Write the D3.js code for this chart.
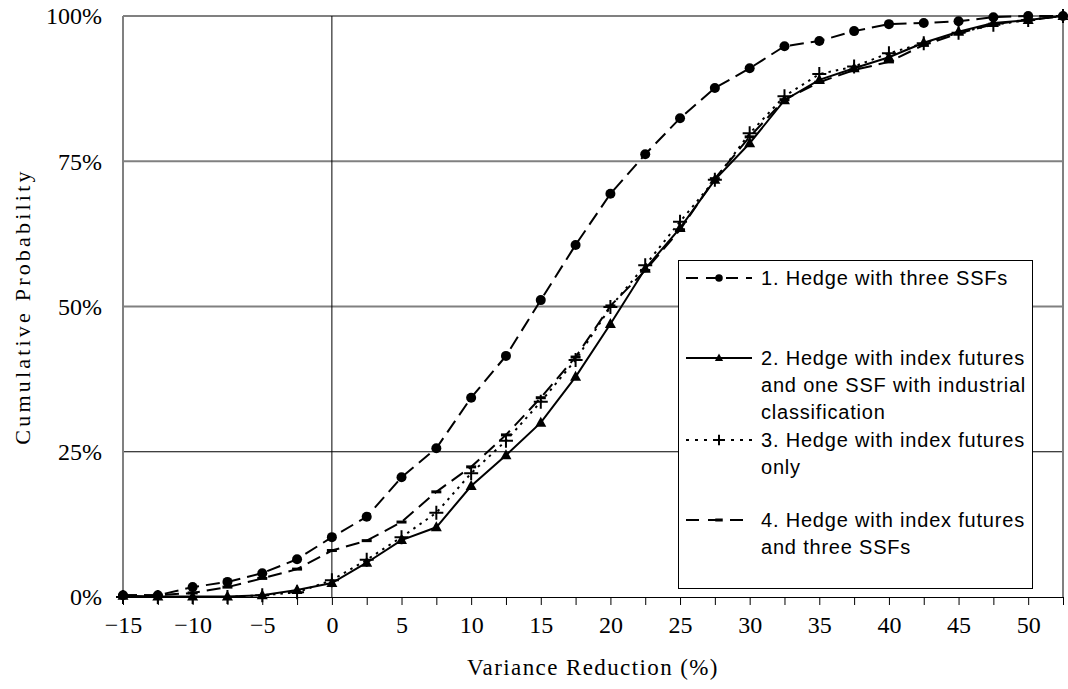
<!DOCTYPE html>
<html>
<head>
<meta charset="utf-8">
<script src="https://cdn.jsdelivr.net/npm/d3@7"></script>
<style>
  body { margin: 0; background: #fff; }
  svg { display: block; }
</style>
</head>
<body>
<div id="chart"></div>
<script>
// variance reduction (%) at each point
const xValues = [-15, -12.5, -10, -7.5, -5, -2.5, 0, 2.5, 5, 7.5, 10, 12.5, 15, 17.5, 20,
    22.5, 25, 27.5, 30, 32.5, 35, 37.5, 40, 42.5, 45, 47.5, 50, 52.5];
const xTickLabels = [-15, -10, -5, 0, 5, 10, 15, 20, 25, 30, 35, 40, 45, 50];
const yTickLabels = [0, 0.25, 0.5, 0.75, 1];

// cumulative probability (%)
const threeSSF = [0.3, 0.3, 1.7, 2.6, 4.1, 6.5, 10.3, 13.8, 20.6, 25.6, 34.3, 41.5, 51.1, 60.6, 69.4,
    76.2, 82.4, 87.6, 91.0, 94.8, 95.7, 97.4, 98.6, 98.8, 99.1, 99.8, 100, 100];
const indexOneSSF = [0.2, 0.1, 0.1, 0.1, 0.3, 1.2, 2.4, 5.9, 9.8, 12.0, 19.1, 24.4, 30.0, 37.9, 47.0,
    56.5, 63.5, 71.8, 78.1, 85.5, 89.0, 91.0, 92.9, 95.4, 97.3, 98.8, 99.3, 100];
const indexOnly = [0, 0, 0, 0, 0.3, 0.8, 2.9, 6.4, 10.3, 14.5, 21.3, 26.9, 33.6, 40.8, 49.9,
    57.1, 64.6, 71.8, 79.8, 86.2, 90.0, 91.3, 93.6, 95.3, 97.1, 98.5, 99.3, 100];
const indexThreeSSF = [0.3, 0.3, 0.7, 1.7, 3.2, 4.8, 8.0, 9.7, 12.9, 18.1, 22.4, 27.9, 34.3, 41.3, 50.1,
    56.2, 63.2, 72.0, 79.2, 85.6, 88.6, 90.7, 92.1, 95.0, 97.0, 98.6, 99.3, 100];

const legendLabels = [
    ["1. Hedge with three SSFs"],
    ["2. Hedge with index futures", "and one SSF with industrial", "classification"],
    ["3. Hedge with index futures", "only"],
    ["4. Hedge with index futures", "and three SSFs"]
];

const width = 1068, height = 689;
const margin = {top: 16, right: 5, bottom: 92, left: 123};

const series = [
    {values: threeSSF, dash: "14,7", legendDash: "12,8", marker: "circle", legendY: 278},
    {values: indexOneSSF, dash: null, legendDash: null, marker: "triangle", legendY: 358},
    {values: indexOnly, dash: "2.5,5", legendDash: "3,6", marker: "plus", legendY: 440},
    {values: indexThreeSSF, dash: "14,7", legendDash: "13,9", marker: "bar", legendY: 520}
];

const svg = d3.select("#chart").append("svg")
    .attr("width", width)
    .attr("height", height);

const x = d3.scaleLinear()
    .domain([-15, 52.5])
    .range([margin.left, width - margin.right]);
const y = d3.scaleLinear()
    .domain([0, 1])
    .range([height - margin.bottom, margin.top]);

const serif = "'Liberation Serif', 'DejaVu Serif', serif";
const sans = "'Liberation Sans', Arial, sans-serif";

// gridlines
const grid = svg.append("g");
grid.selectAll("line.h")
    .data(yTickLabels.slice(1))
    .enter().append("line")
    .attr("x1", x(-15)).attr("x2", x(52.5))
    .attr("y1", d => y(d)).attr("y2", d => y(d))
    .attr("stroke", d => d === 0.25 ? "#000" : "#808080")
    .attr("stroke-width", d => d === 0.25 ? 1 : 2);
grid.append("line")
    .attr("x1", x(0)).attr("x2", x(0))
    .attr("y1", y(0)).attr("y2", y(1))
    .attr("stroke", "#000");
grid.append("line")
    .attr("x1", x(-15)).attr("x2", x(-15))
    .attr("y1", y(0)).attr("y2", y(1))
    .attr("stroke", "#808080").attr("stroke-width", 2);
grid.append("line")
    .attr("x1", x(52.5)).attr("x2", x(52.5))
    .attr("y1", y(0)).attr("y2", y(1))
    .attr("stroke", "#808080").attr("stroke-width", 2);

// x axis
const xAxis = d3.axisBottom(x)
    .tickValues(xValues)
    .tickSize(8)
    .tickFormat(d => xTickLabels.includes(d) ? (d < 0 ? "\u2212" + Math.abs(d) : d) : "");
const gx = svg.append("g")
    .attr("transform", `translate(0,${y(0)})`)
    .call(xAxis);
gx.select(".domain").attr("stroke", "#000");
gx.selectAll(".tick line").attr("stroke", "#000");
gx.selectAll(".tick text")
    .attr("font-family", serif)
    .attr("font-size", 24)
    .attr("fill", "#000")
    .attr("dy", "1.05em");

// y tick labels
svg.append("g").selectAll("text")
    .data(yTickLabels)
    .enter().append("text")
    .attr("x", 102)
    .attr("y", d => y(d))
    .attr("dy", "0.35em")
    .attr("text-anchor", "end")
    .attr("font-family", serif)
    .attr("font-size", 24)
    .text(d3.format(".0%"));

// axis titles
svg.append("text")
    .attr("x", x(18.75))
    .attr("y", 675)
    .attr("text-anchor", "middle")
    .attr("font-family", serif)
    .attr("font-size", 23)
    .attr("letter-spacing", 1.4)
    .text("Variance Reduction (%)");
svg.append("text")
    .attr("transform", `translate(30,${y(0.5)}) rotate(-90)`)
    .attr("text-anchor", "middle")
    .attr("font-family", serif)
    .attr("font-size", 22)
    .attr("letter-spacing", 3.2)
    .text("Cumulative Probability");

// markers
function drawMarker(g, type, cx, cy, s = 1) {
    if (type === "circle") {
        g.append("circle").attr("cx", cx).attr("cy", cy).attr("r", 5 * s).attr("fill", "#000");
    } else if (type === "triangle") {
        g.append("path")
            .attr("d", `M${cx},${cy - 6 * s}L${cx + 5.5 * s},${cy + 4 * s}L${cx - 5.5 * s},${cy + 4 * s}Z`)
            .attr("fill", "#000");
    } else if (type === "plus") {
        g.append("path")
            .attr("d", `M${cx - 7 * s},${cy}H${cx + 7 * s}M${cx},${cy - 7 * s}V${cy + 7 * s}`)
            .attr("stroke", "#000").attr("stroke-width", 2).attr("fill", "none");
    } else if (type === "bar") {
        g.append("rect").attr("x", cx - 5 * s).attr("y", cy - 1.5)
            .attr("width", 10 * s).attr("height", 3).attr("fill", "#000");
    }
}

const line = d3.line()
    .x((d, i) => x(xValues[i]))
    .y(d => y(d / 100));

const plot = svg.append("g");
series.slice().reverse().forEach(s => {
    const g = plot.append("g");
    g.append("path")
        .attr("d", line(s.values))
        .attr("fill", "none")
        .attr("stroke", "#000")
        .attr("stroke-width", 2)
        .attr("stroke-dasharray", s.dash);
    s.values.forEach((v, i) => drawMarker(g, s.marker, x(xValues[i]), y(v / 100)));
});

// legend
const legend = svg.append("g");
legend.append("rect")
    .attr("x", 678.5).attr("y", 260.5)
    .attr("width", 354).attr("height", 328)
    .attr("fill", "#fff")
    .attr("stroke", "#000");
series.forEach((s, i) => {
    const g = legend.append("g");
    g.append("line")
        .attr("x1", 686).attr("x2", 752)
        .attr("y1", s.legendY).attr("y2", s.legendY)
        .attr("stroke", "#000")
        .attr("stroke-width", 2)
        .attr("stroke-dasharray", s.legendDash);
    drawMarker(g, s.marker, 719, s.legendY, 0.75);
    legendLabels[i].forEach((t, j) => {
        g.append("text")
            .attr("x", 761)
            .attr("y", s.legendY + j * 27)
            .attr("dy", "0.36em")
            .attr("font-family", sans)
            .attr("font-size", 20)
            .attr("letter-spacing", 0.8)
            .text(t);
    });
});
</script>
</body>
</html>
